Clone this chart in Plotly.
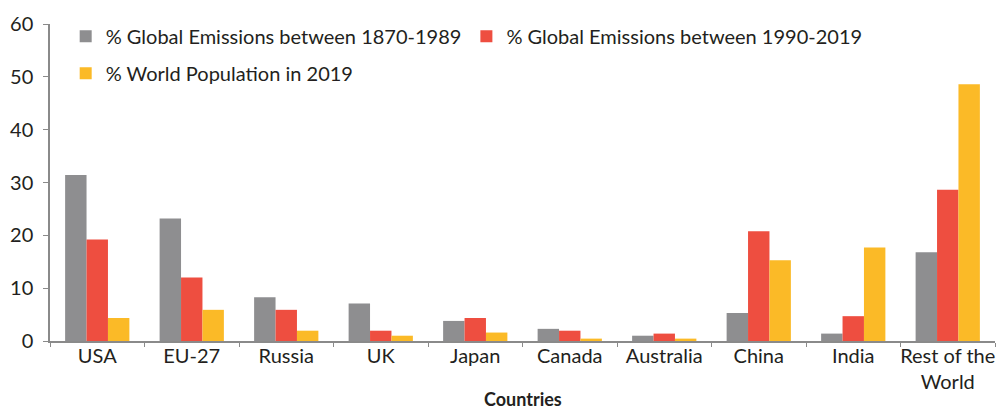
import plotly.graph_objects as go

countries = ["USA", "EU-27", "Russia", "UK", "Japan", "Canada", "Australia",
             "China", "India", "Rest of the<br>World"]
emis_1870_1989 = [31.4, 23.2, 8.3, 7.1, 3.8, 2.3, 1.0, 5.3, 1.4, 16.8]
emis_1990_2019 = [19.2, 12.0, 5.9, 1.95, 4.35, 1.95, 1.4, 20.75, 4.7, 28.65]
pop_2019 = [4.35, 5.9, 1.95, 1.0, 1.6, 0.45, 0.45, 15.3, 17.7, 48.6]

series = [
    ("% Global Emissions between 1870-1989", emis_1870_1989, "rgb(142,142,144)", "legend"),
    ("% Global Emissions between 1990-2019", emis_1990_2019, "rgb(238,78,64)", "legend"),
    ("% World Population in 2019", pop_2019, "rgb(251,186,39)", "legend2"),
]

txt = "#231f20"
fig = go.Figure()
for name, vals, col, leg in series:
    fig.add_trace(go.Bar(x=countries, y=vals, name=name, marker_color=col,
                         marker_line_width=0, legend=leg))

leg_common = dict(orientation="h", xanchor="left", yanchor="middle",
                  font=dict(size=20), bgcolor="rgba(0,0,0,0)", traceorder="normal")
fig.update_layout(
    width=1002, height=408,
    margin=dict(l=50, r=7, t=24, b=67),
    plot_bgcolor="white", paper_bgcolor="white",
    font=dict(family="Lato, sans-serif", size=18, color=txt),
    barmode="group", bargap=0.32, bargroupgap=0,
    legend=dict(x=0.0166, y=0.961, **leg_common),
    legend2=dict(x=0.0166, y=0.845, **leg_common),
    showlegend=True,
    annotations=[dict(text="<b>Countries</b>", xref="paper", yref="paper",
                      x=0.5, y=-0.183, xanchor="center", yanchor="middle",
                      showarrow=False, font=dict(size=18, color=txt))],
)
fig.update_xaxes(
    showline=True, linecolor="#8a8a8a", linewidth=1.5,
    ticks="outside", tickson="boundaries", ticklen=4, tickcolor="#8a8a8a",
    tickfont=dict(size=20), tickangle=0, automargin=False, ticklabelstandoff=-4,
)
fig.update_yaxes(
    range=[0, 60], dtick=10, showgrid=False, zeroline=False,
    showline=True, linecolor="#8a8a8a", linewidth=1.5,
    ticks="outside", ticklen=5, tickcolor="#8a8a8a",
    tickfont=dict(size=20), ticklabelstandoff=6, automargin=False,
)

fig.write_html("out.html", config={"displayModeBar": False},
               post_script="document.body.style.margin='0';")
